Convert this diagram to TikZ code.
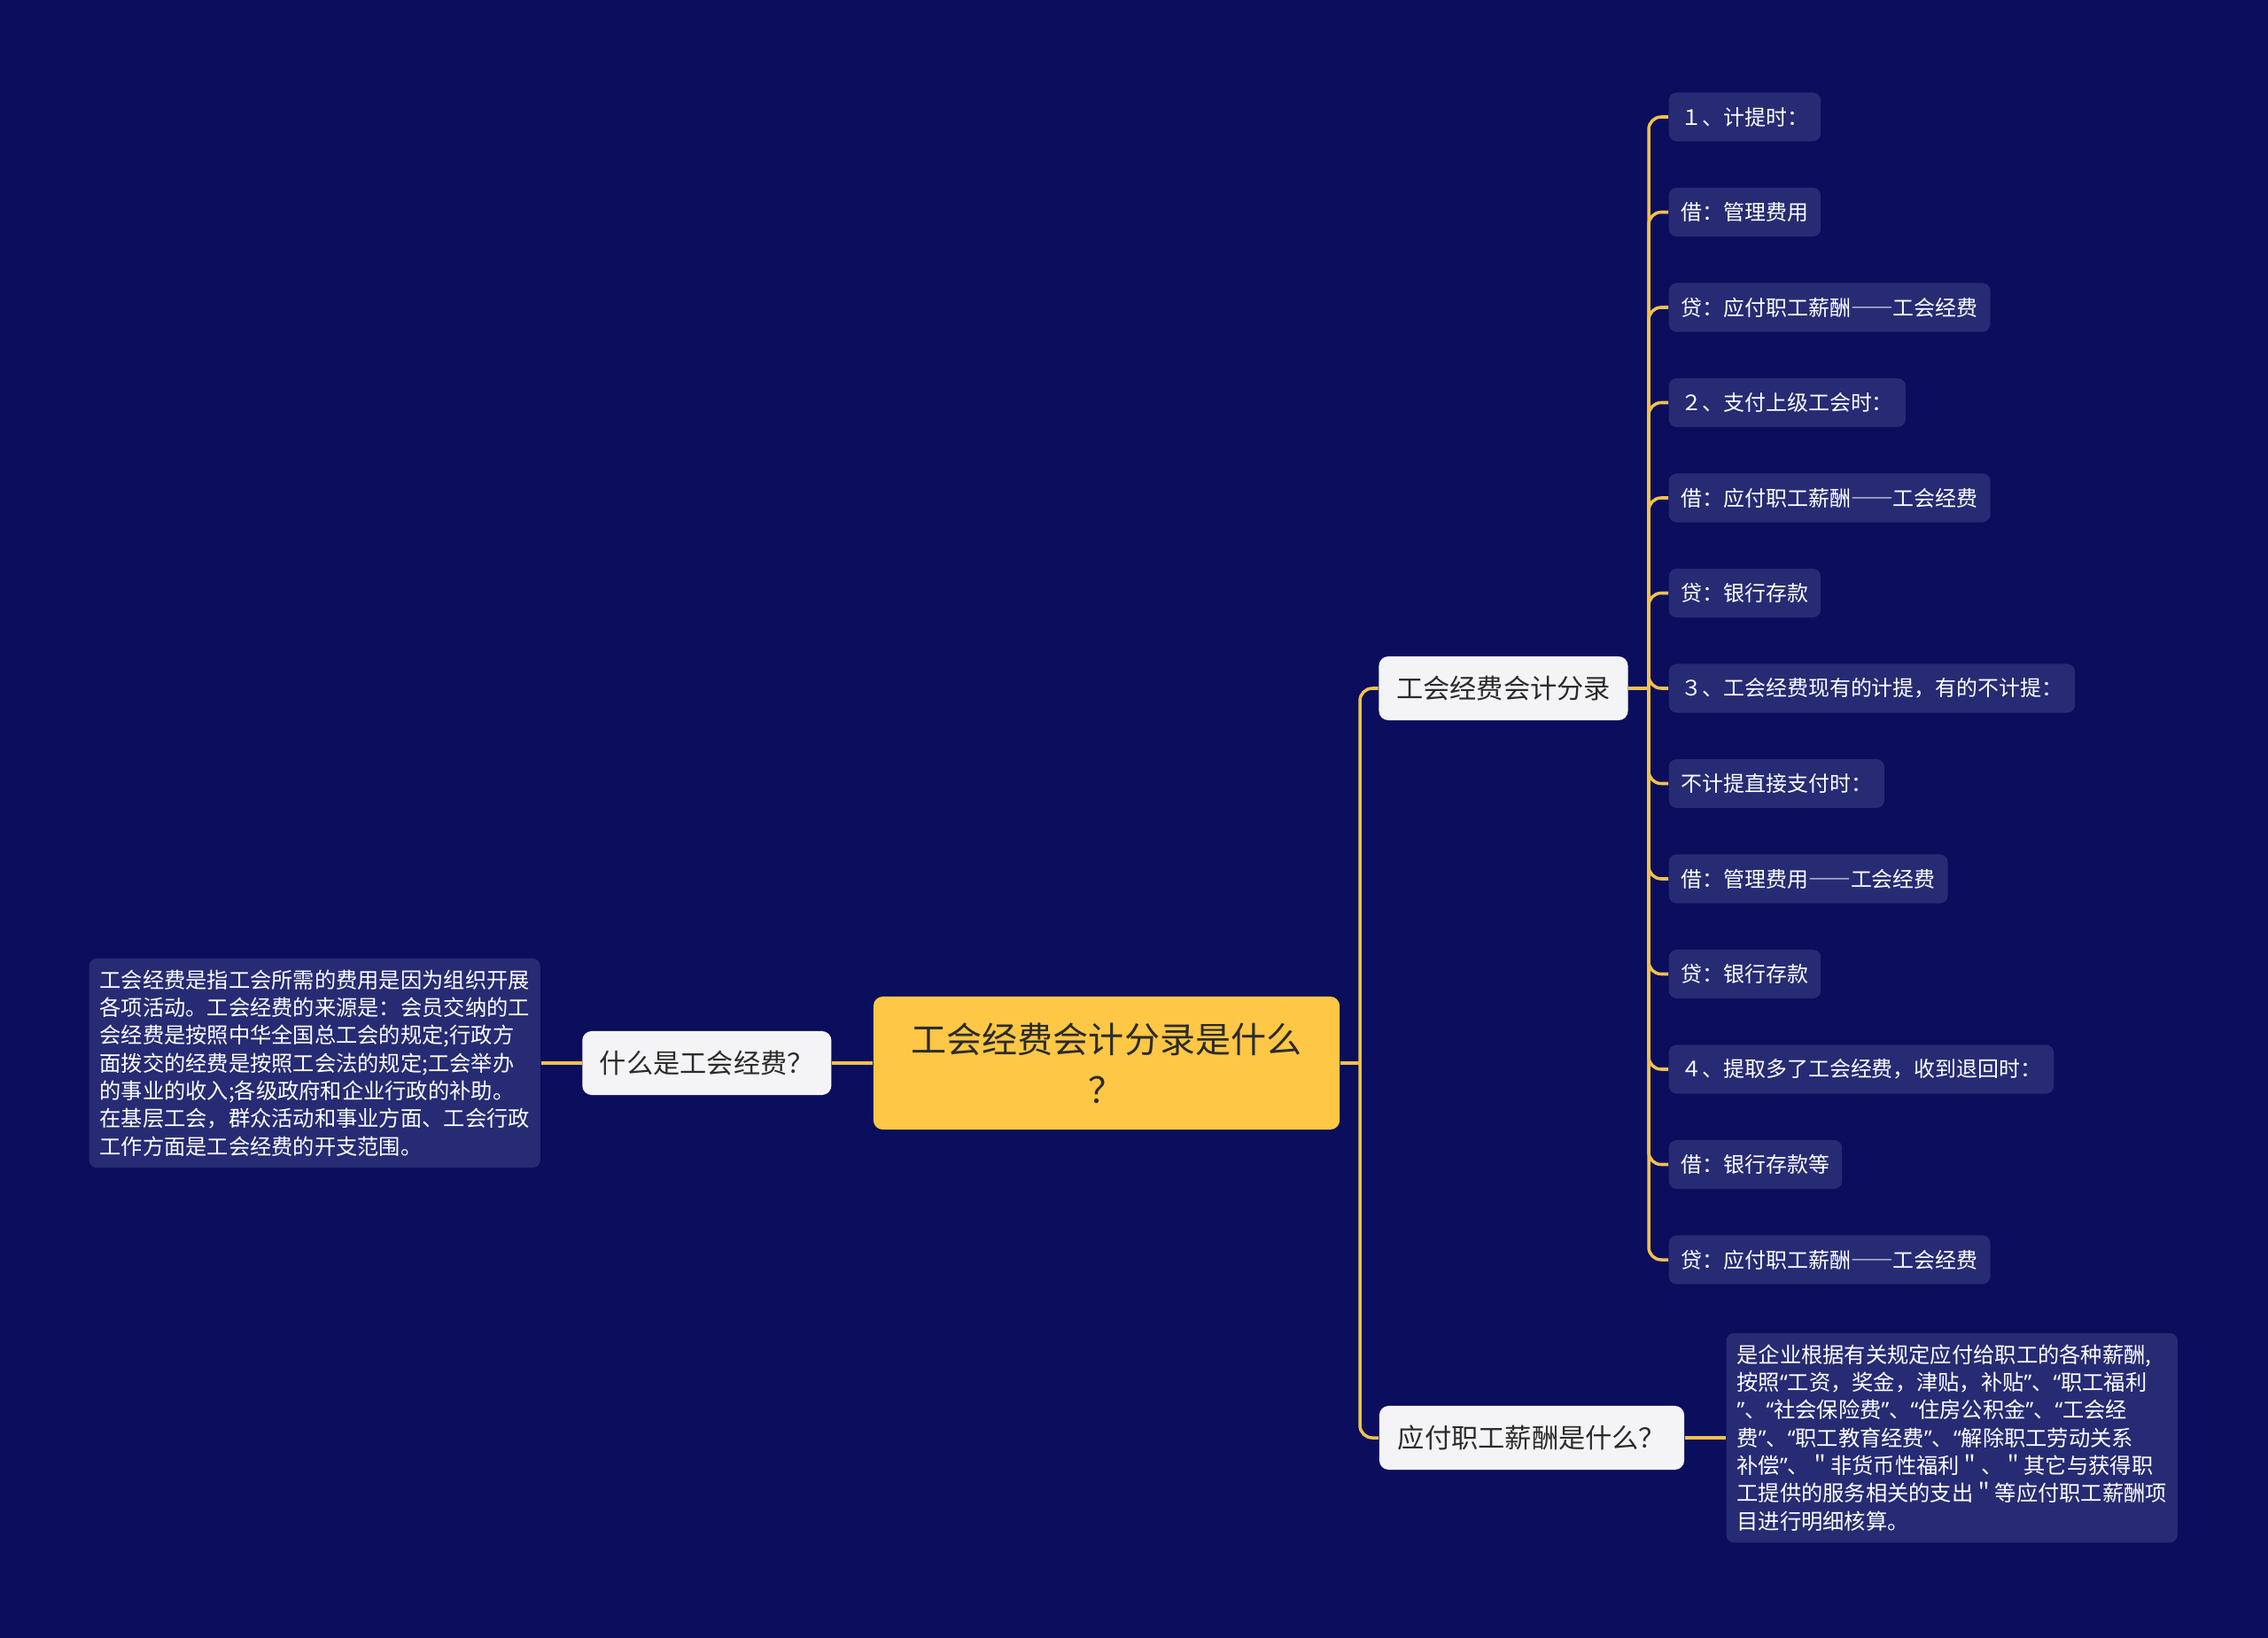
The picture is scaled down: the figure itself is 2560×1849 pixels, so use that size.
\documentclass[tikz,border=0pt]{standalone}
\usepackage{fontspec}
\setmainfont{Noto Sans CJK SC}
\newfontfamily\leaffont[RawFeature=+fwid]{Noto Sans CJK SC}
\newfontfamily\latinsans{Noto Sans}
\usetikzlibrary{positioning}

\definecolor{bgnavy}{HTML}{0A0E5C}
\definecolor{leafnavy}{HTML}{262B74}
\definecolor{linkgold}{HTML}{F2C14E}
\definecolor{rootyellow}{HTML}{FFC746}
\definecolor{topicgray}{HTML}{F4F4F6}
\definecolor{inkdark}{HTML}{2B2B2B}

% narrow quotes as in the notes
\newcommand{\qopen}{{\latinsans “}}
\newcommand{\qclose}{{\latinsans ”}}

\begin{document}
\begin{tikzpicture}[
  x=0.01cm, y=-0.01cm,
  root/.style={fill=rootyellow, rounded corners=3pt, minimum width=5.26cm,
               minimum height=1.5cm, align=center, text=inkdark,
               font=\fontsize{11.4pt}{16.2pt}\selectfont},
  topic/.style={fill=topicgray, rounded corners=3pt, minimum height=0.72cm,
                minimum width=2.81cm, inner xsep=0.17cm, text=inkdark,
                font=\fontsize{8.6pt}{10pt}\selectfont},
  leaf/.style={fill=leafnavy, rounded corners=2.5pt, minimum height=0.55cm,
               inner xsep=0.14cm, anchor=west, text=white,
               font=\leaffont\fontsize{6.8pt}{8pt}\selectfont},
  note/.style={fill=leafnavy, rounded corners=2.5pt, align=left,
               inner xsep=0.12cm, inner ysep=0.13cm, text=white,
               font=\fontsize{6.9pt}{8.9pt}\selectfont},
  link/.style={draw=linkgold, line width=1pt, rounded corners=4pt}
]
\fill[bgnavy] (0,0) rectangle (2560,1849);
\useasboundingbox (0,0) rectangle (2560,1849);

% centre and first level
\node[root] (root) at (1249,1200) {工会经费会计分录是什么\\？};
\node[topic, left=0.46cm of root] (ask) {什么是工会经费？};
\node[topic] (kb) at (1697,777) {工会经费会计分录};
\node[topic, minimum width=3.44cm] (yf) at (1729,1623) {应付职工薪酬是什么？};

% explanations
\node[note, left=0.46cm of ask] (askinfo) {%
工会经费是指工会所需的费用是因为组织开展\\
各项活动。工会经费的来源是：会员交纳的工\\
会经费是按照中华全国总工会的规定;行政方\\
面拨交的经费是按照工会法的规定;工会举办\\
的事业的收入;各级政府和企业行政的补助。\\
在基层工会，群众活动和事业方面、工会行政\\
工作方面是工会经费的开支范围。};
\node[note, right=0.46cm of yf] (yfinfo) {%
是企业根据有关规定应付给职工的各种薪酬,\\
按照\qopen 工资，奖金，津贴，补贴\qclose 、\qopen 职工福利\\
\qclose 、\qopen 社会保险费\qclose 、\qopen 住房公积金\qclose 、\qopen 工会经\\
费\qclose 、\qopen 职工教育经费\qclose 、\qopen 解除职工劳动关系\\
补偿\qclose 、＂非货币性福利＂、＂其它与获得职\\
工提供的服务相关的支出＂等应付职工薪酬项\\
目进行明细核算。};

% entries
\foreach \t [count=\i] in {
  {1、计提时：},
  {借：管理费用},
  {贷：应付职工薪酬——工会经费},
  {2、支付上级工会时：},
  {借：应付职工薪酬——工会经费},
  {贷：银行存款},
  {3、工会经费现有的计提，有的不计提：},
  {不计提直接支付时：},
  {借：管理费用——工会经费},
  {贷：银行存款},
  {4、提取多了工会经费，收到退回时：},
  {借：银行存款等},
  {贷：应付职工薪酬——工会经费}}
  \node[leaf] (l\i) at (1883,{132+107.5*(\i-1)}) {\t};

% connectors
\coordinate (rootj) at (1535,1200);
\coordinate (kbj) at (1861,777);
\draw[link] (root.east) -- (rootj);
\draw[link] (rootj) |- (kb.west);
\draw[link] (rootj) |- (yf.west);
\draw[link] (ask.east) -- (root.west);
\draw[link] (askinfo.east) -- (ask.west);
\draw[link] (yf.east) -- (yfinfo.west);
\draw[link] (kb.east) -- (kbj);
\foreach \i in {1,...,13}
  \draw[link] (kbj) |- (l\i.west);
\end{tikzpicture}
\end{document}
